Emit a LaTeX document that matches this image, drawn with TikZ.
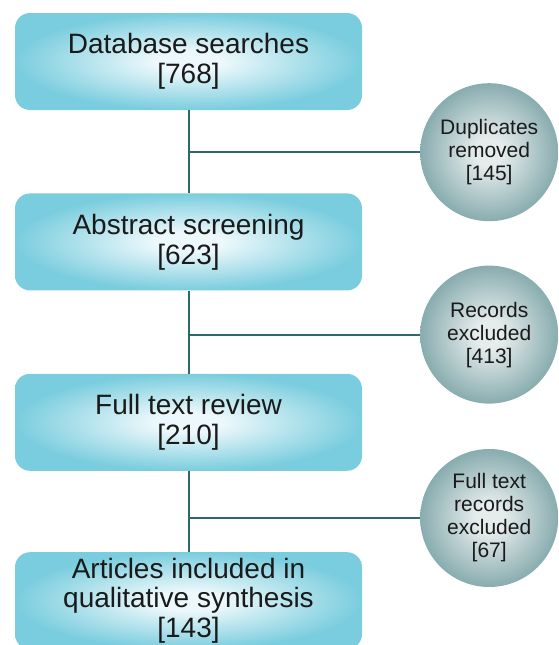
\documentclass[tikz,border=0pt]{standalone}
\usepackage{fontspec}
\setmainfont{Liberation Sans}
\usetikzlibrary{positioning}
\definecolor{boxin}{RGB}{236,248,251}
\definecolor{boxout}{RGB}{122,205,222}
\definecolor{circin}{RGB}{230,236,236}
\definecolor{circout}{RGB}{136,172,175}
\definecolor{linkcol}{RGB}{44,104,112}
\definecolor{txt}{RGB}{26,26,26}
\pgfdeclareradialshading{stageshade}{\pgfpoint{0bp}{0bp}}{color(0bp)=(boxin); color(5bp)=(boxin); color(25bp)=(boxout); color(50bp)=(boxout)}
\pgfdeclareradialshading{outcomeshade}{\pgfpoint{0bp}{0bp}}{color(0bp)=(circin); color(5bp)=(circin); color(25bp)=(circout); color(50bp)=(circout)}
\begin{document}
\begin{tikzpicture}[x=1pt, y=1pt, node distance=83pt,
    stage/.style={rectangle, rounded corners=15pt, shading=stageshade, minimum width=347pt, minimum height=97pt, inner ysep=2pt, align=center, text=txt, font=\fontsize{28}{30}\selectfont},
    outcome/.style={circle, shading=outcomeshade, minimum size=138pt, inner sep=0pt, align=center, text=txt, font=\fontsize{21}{23}\selectfont},
    link/.style={draw=linkcol, line width=2pt}]
    \clip (0,0) rectangle (558,-645);
    \node (db) [stage] at (188.5,-61.5) {Database searches\\{[768]}};
    \node (abs) [stage, below=of db] {Abstract screening\\{[623]}};
    \node (full) [stage, below=of abs] {Full text review\\{[210]}};
    \node (incl) [stage, below=of full, yshift=2pt, font=\fontsize{28}{29.5}\selectfont] {Articles included in\\qualitative synthesis\\{[143]}};
    \coordinate (j1) at ([yshift=-42pt]db.south);
    \coordinate (j2) at ([yshift=-44pt]abs.south);
    \coordinate (j3) at ([yshift=-47pt]full.south);
    \node (dup) [outcome, right=231.5pt of j1] {Duplicates\\removed\\{[145]}};
    \node (rec) [outcome, right=231.5pt of j2] {Records\\excluded\\{[413]}};
    \node (ftx) [outcome, right=231.5pt of j3] {Full text\\records\\excluded\\{[67]}};

    \path [link] (db) edge (abs) (abs) edge (full) (full) edge (incl)
                 (j1) edge (dup) (j2) edge (rec) (j3) edge (ftx);
\end{tikzpicture}
\end{document}
